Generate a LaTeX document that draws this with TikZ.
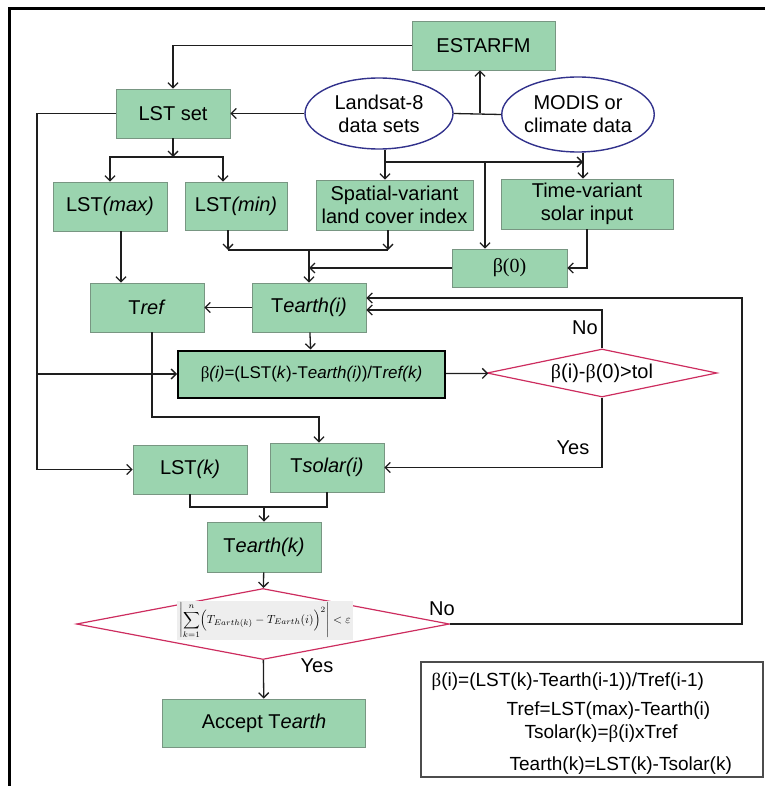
\documentclass[tikz,border=0pt]{standalone}
\usepackage{fontspec}
\setmainfont{Liberation Sans}
\newfontfamily\grkfont{Liberation Serif}
\usetikzlibrary{shapes.geometric,arrows.meta,positioning}
\definecolor{boxgreen}{RGB}{155,212,175}
\definecolor{boxedge}{RGB}{120,150,130}
\definecolor{dataedge}{RGB}{50,50,140}
\definecolor{testedge}{RGB}{205,45,95}
\definecolor{linecol}{RGB}{30,30,30}
\definecolor{mathbg}{RGB}{238,238,238}
\newcommand{\betasym}{{\grkfont β}}

\begin{document}
\begin{tikzpicture}[x=1pt,y=-1pt,>={Straight Barb[length=5pt,width=10pt]},line width=1.3pt,draw=linecol,
  box/.style={rectangle,draw=boxedge,fill=boxgreen,line width=0.8pt,inner sep=2pt,align=center,font=\fontsize{20}{23}\selectfont},
  data/.style={ellipse,draw=dataedge,line width=1.4pt,inner sep=0pt,align=center,font=\fontsize{20}{23}\selectfont},
  test/.style={diamond,draw=testedge,line width=1.2pt,inner sep=0pt},
  txt/.style={inner sep=1pt,font=\fontsize{20}{23}\selectfont},
  note/.style={inner sep=0pt,anchor=base west,font=\fontsize{19}{22}\selectfont}]

    \useasboundingbox (0,0) rectangle (765,786);
    \draw[line width=3pt,black] (8,9) -- (765,9);
    \draw[line width=3pt,black] (9,9) -- (9,786);

    \node[box, minimum width=143, minimum height=49] (1) at (483.5,45.5) {ESTARFM};
    \node[box, minimum width=114, minimum height=49] (2) at (173,113.5) {LST set};
    \node[data, minimum width=148, minimum height=71] (3) at (379,113.5) {Landsat-8\\data sets};
    \node[data, minimum width=149, minimum height=75] (4) at (578,114.5) {MODIS or\\climate data};
    \node[box, minimum width=114, minimum height=49] (5) at (110,206.5) {LST\textit{(max)}};
    \node[box, minimum width=102, minimum height=48] (6) at (236,206) {LST\textit{(min)}};
    \node[box, minimum width=157, minimum height=50] (7) at (394.5,205) {Spatial-variant\\land cover index};
    \node[box, minimum width=172, minimum height=50] (8) at (587,204) {Time-variant\\solar input};
    \node[box, minimum width=115, minimum height=38] (9) at (509.5,268) {{\grkfont β(0)}};
    \node[box, minimum width=114, minimum height=49] (10) at (147,307.5) {T\textit{ref}};
    \node[box, minimum width=114, minimum height=49] (11) at (309,307.5) {T\textit{earth(i)}};
    \node[box, draw=black, line width=2pt, minimum width=267, minimum height=47,
          font=\fontsize{17}{20}\selectfont] (12) at (311.5,374)
          {\betasym\textit{(i)}=(LST(\textit{k})-T\textit{earth(i)})/T\textit{ref(k)}};
    \node[test, minimum width=230, minimum height=48] (13) at (602,373) {};
    \node[txt] (13t) at (13.center) {\betasym(i)-\betasym(0)>tol};
    \node[box, minimum width=114, minimum height=49] (14) at (190,469.5) {LST\textit{(k)}};
    \node[box, minimum width=114, minimum height=49] (15) at (327,467.5) {T\textit{solar(i)}};
    \node[box, minimum width=114, minimum height=50] (16) at (264,547) {T\textit{earth(k)}};
    \node[test, minimum width=373, minimum height=71] (17) at (263,624) {};
    \node[fill=mathbg, inner xsep=2pt, inner ysep=1pt, scale=1.17] (17t) at (265,620.5)
          {$\displaystyle\left|\sum_{k=1}^{n}\Bigl(T_{Earth(k)}-T_{Earth}(i)\Bigr)^{2}\right|<\varepsilon$};
    \node[box, minimum width=203, minimum height=48] (18) at (264,723) {Accept T\textit{earth}};

    % legend
    \node[draw=black!70, line width=1.5pt, minimum width=342, minimum height=115] (19) at (592,719.5) {};
    \node[note] (19a) at (431,686) {\betasym(i)=(LST(k)-Tearth(i-1))/Tref(i-1)};
    \node[note] (19b) at (506,715) {Tref=LST(max)-Tearth(i)};
    \node[note] (19c) at (524,738) {Tsolar(k)=\betasym(i)xTref};
    \node[note] (19d) at (509,770) {Tearth(k)=LST(k)-Tsolar(k)};

    \node[txt] (no1) at (585,328) {No};
    \node[txt] (yes1) at (573,448) {Yes};
    \node[txt] (no2) at (442,609) {No};
    \node[txt] (yes2) at (317,666) {Yes};

    \coordinate (a) at (480,113.5);
    \coordinate (b) at (173,157);
    \coordinate (c) at (385,162);
    \coordinate (d) at (583,162);
    \coordinate (e) at (485,162);
    \coordinate (f) at (228,250);
    \coordinate (g) at (388,250);
    \coordinate (k) at (742,298);
    \coordinate (m1) at (152,417);
    \coordinate (m2) at (319,417);
    \coordinate (n) at (37,374);
    \coordinate (p) at (190,507);

    \draw[->] (1.west) -| (2.north);
    \draw[->] (3) -- (2);
    \draw (3.east) -- (4.west);
    \draw[->] (a) -- (a |- 1.south);

    \draw[->] (2) -- (b);
    \draw[->] (b) -| (5);
    \draw[->] (b) -| ([xshift=-13pt]6.north);

    \draw[->] (c |- 3.south) -- (c |- 7.north);
    \draw[->] (c) -- (d);
    \draw[->] (d |- 4.south) -- (d |- 8.north);
    \draw[->] (e) -- (e |- 9.north);

    \draw[->] (f |- 6.south) -- (f);
    \draw[->] (g |- 7.south) -- (g);
    \draw (f) -- (g);
    \draw[->] (11.north |- f) -- (11);
    \draw[->] (9) -- (9 -| 11);
    \draw[->] (8.south) |- (9.east);

    \draw[->] ([xshift=11pt]5.south) -- ([xshift=11pt]5.south |- 10.north);
    \draw[->] (11) -- (10);
    \draw[->] (11) -- (12);
    \draw[->] (12) -- (13);
    \draw[->] (13.north) |- ([yshift=-2.5pt]11.east);
    \draw[->] (17.east) -| (k) -- (k -| 11.east);
    \draw[->] (13.south) |- (15.east);
    \draw[->] (m1 |- 10.south) -- (m1) -- (m2) -- (m2 |- 15.north);

    \draw[->] (2.west) -| (n |- 14) -- (14);
    \draw[->] (n) -- (12.west);

    \draw (14.south) -- (p) -- (p -| 15.south) -- (15.south);
    \draw[->] (16.north |- p) -- (16);
    \draw[->] (16) -- (17);
    \draw[->] (17) -- (18);

\end{tikzpicture}
\end{document}
